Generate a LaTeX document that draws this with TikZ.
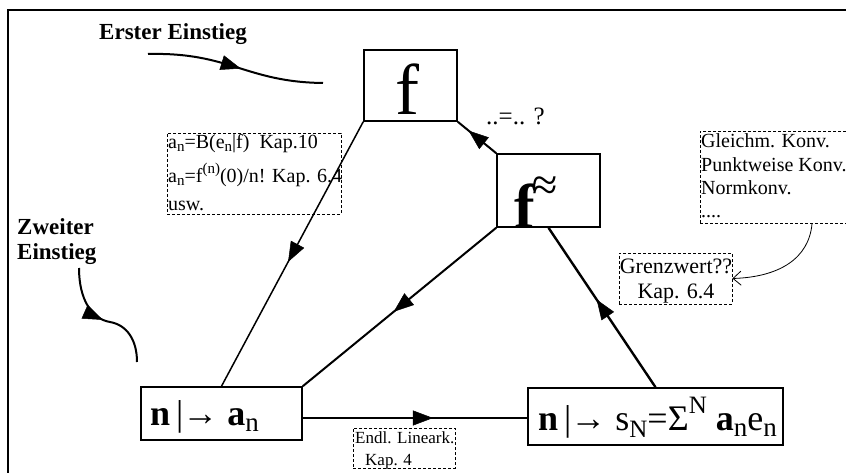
\documentclass[tikz,border=0pt]{standalone}
\usepackage{fontspec}
\setmainfont{Liberation Serif}
\usetikzlibrary{arrows.meta,decorations.markings,calc}
\newcommand\fs[1]{\fontsize{#1}{#1}\selectfont}
\newcommand\lowr[3]{\raisebox{-#1pt}{\fs{#2}#3}}
\newcommand\upr[3]{\raisebox{#1pt}{\fs{#2}#3}}
\tikzset{
  box/.style={draw, line width=1.6pt, inner sep=0pt},
  note/.style={draw, line width=0.8pt, dash pattern=on 3pt off 2pt, inner sep=0pt},
  txt/.style={inner sep=0pt, anchor=base west, font=\fs{20}},
  bigtxt/.style={inner sep=0pt, anchor=base west, font=\fs{36}},
  headtxt/.style={inner sep=0pt, anchor=base west, font=\fs{23}\bfseries},
  conn/.style={line width=2pt},
  bigtip/.tip={Triangle[length=20pt,width=15pt]},
  midarrow/.style={postaction={decorate}, decoration={markings, mark=at position #1 with {\arrow[line width=0.5pt]{bigtip}}}},
}
\begin{document}
\begin{tikzpicture}[x=1pt,y=-1pt]
\useasboundingbox (0,0) rectangle (846,473);
% outer frame
\draw[line width=2pt] (8,480) -- (8,10) -- (852,10);

% boxes
\node[box, minimum width=93pt, minimum height=71pt] (f) at (410.5,85.5) {};
\node[box, minimum width=103pt, minimum height=73pt] (ft) at (548.5,190.5) {};
\node[box, minimum width=161pt, minimum height=53pt] (na) at (221.5,413.5) {};
\node[box, minimum width=255pt, minimum height=57pt] (ns) at (655.5,416.5) {};
\node[note, minimum width=174pt, minimum height=81pt] (n1) at (254,173.5) {};
\node[note, minimum width=152pt, minimum height=92pt, anchor=north west] (konv) at (700,131) {};
\node[note, minimum width=113pt, minimum height=51pt] (grenz) at (675.5,278.5) {};
\node[note, minimum width=102pt, minimum height=40pt] (endl) at (404,448) {};

% texts in boxes
\node[inner sep=0pt, anchor=base, font=\fs{72}] (ftx) at (407.5,115) {f};
\node[inner sep=0pt, anchor=base west, font=\fs{62}\bfseries] (fttx) at (514,228) {f};
\node[inner sep=0pt, font=\fs{46}] (approx) at (545,189) {≈};
\node[bigtxt] (natx) at (150,425) {\textbf{n}\,|\kern-1pt→\ \textbf{a}\lowr{6}{27}{n}};
\node[bigtxt] (nstx) at (538,430) {\textbf{n}\,|\kern-1pt→\ s\lowr{7}{25}{N}=Σ\upr{17}{25}{N}\ \textbf{a}\lowr{6}{27}{n}e\lowr{6}{27}{n}};

% heading texts
\node[headtxt] (erster) at (99,40) {Erster Einstieg};
\node[headtxt] (zw1) at (17,235) {Zweiter};
\node[headtxt] (zw2) at (17,259) {Einstieg};

% note 1
\node[txt] (n1a) at (168,149) {a\lowr{3}{15}{n}=B(e\lowr{3}{15}{n}|f)\ \ Kap.10};
\node[txt] (n1b) at (168,183) {a\lowr{3}{15}{n}=f\upr{9}{15}{(n)}(0)/n! Kap. 6.4};
\node[txt] (n1c) at (168,211) {usw.};

% konv note
\node[txt] (k1) at (701,148) {Gleichm. Konv.};
\node[txt] (k2) at (701,172) {Punktweise Konv.};
\node[txt] (k3) at (701,195) {Normkonv.};
\node[txt] (k4) at (701,218) {....};

% grenz note
\node[inner sep=0pt, anchor=base, font=\fs{22}] (g1) at (676,273) {Grenzwert??};
\node[inner sep=0pt, anchor=base, font=\fs{22}] (g2) at (676,298) {Kap. 6.4};

% endl note
\node[inner sep=0pt, anchor=base west, font=\fs{17}] (e1) at (355,443) {Endl. Lineark.};
\node[inner sep=0pt, anchor=base west, font=\fs{17}] (e2) at (365,465) {Kap. 4};

% question
\node[inner sep=0pt, anchor=base west, font=\fs{25}] (q) at (486,125) {..=.. ?};

% connectors
\draw[conn, line width=1.5pt, midarrow=0.53] (f.south west) -- (na.north);
\draw[conn, midarrow=0.53] (ft.south west) -- (na.north east);
\draw[conn, midarrow=0.58] (na.east |- 0,418) -- (ns.west |- 0,418);
\draw[conn, line width=2.4pt, midarrow=0.55] (ns.north) -- (ft.south);
\draw[conn, midarrow=0.72] (ft.north west) -- (f.south east);

% entry curves
\coordinate (e1s) at (148,54);
\coordinate (e1e) at (323,83);
\draw[conn, midarrow=0.53] (e1s) .. controls (230,52) and (245,82) .. (e1e);
\coordinate (e2s) at (79,268);
\coordinate (e2m) at (110,322);
\coordinate (e2e) at (137,362);
\draw[conn, midarrow=0.5] (e2s) .. controls (79,300) and (92,319) .. (e2m) .. controls (127,325) and (137,340) .. (e2e);

% konv -> grenz
\coordinate (ks) at ($(konv.south west)+(112,0)$);
\draw[line width=0.8pt, -{Straight Barb[length=8pt,width=14pt]}] (ks) .. controls (809,258) and (780,277) .. (grenz.east);
\end{tikzpicture}
\end{document}
